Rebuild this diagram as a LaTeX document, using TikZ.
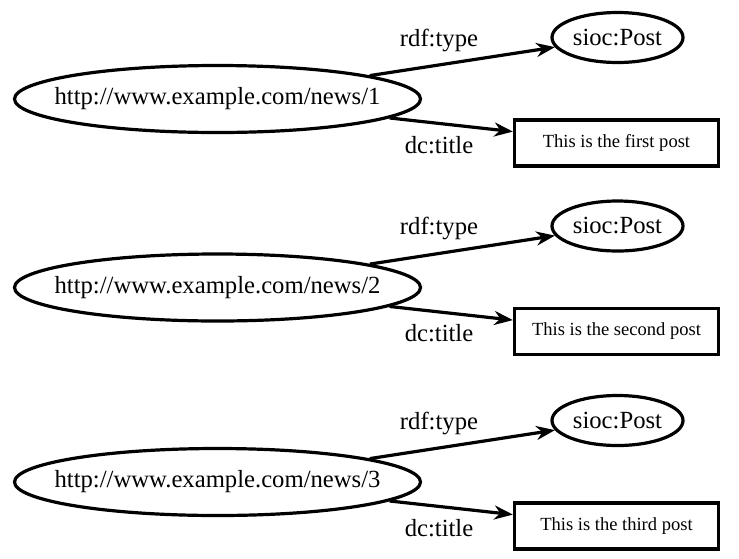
\documentclass[tikz,border=0pt]{standalone}
\usepackage{fontspec}
\setmainfont{Liberation Serif}
\usetikzlibrary{shapes.geometric,arrows.meta}
\tikzset{
  resnode/.style={draw, ellipse, inner sep=0pt, line width=2.4pt, minimum width=304.5pt, minimum height=50.25pt, font=\fontsize{18.5pt}{22pt}\selectfont},
  classnode/.style={draw, ellipse, inner sep=0pt, line width=2.4pt, minimum width=98.25pt, minimum height=37.5pt, font=\fontsize{18.5pt}{22pt}\selectfont},
  litnode/.style={draw, rectangle, inner sep=0pt, line width=2.4pt, minimum width=153pt, minimum height=34.5pt, font=\fontsize{13.9pt}{16pt}\selectfont},
  edgelabel/.style={inner sep=0pt, font=\fontsize{18.5pt}{22pt}\selectfont},
  link/.style={-{Stealth[length=14pt, width=10.5pt, inset=4.5pt]}, line width=2.4pt}
}
\begin{document}
\begin{tikzpicture}[x=0.75pt, y=-0.75pt]
\useasboundingbox (0,0) rectangle (739,558);
\foreach \i/\off/\word in {1/0/first, 2/188.5/second, 3/383/third} {
  \node[resnode] (res\i) at (217.5, 99+\off) {\makebox[0pt]{http://www.example.com/news/\i}};
  \node[classnode] (cls\i) at (617.5, 37.5+\off) {\makebox[0pt]{sioc:Post}};
  \node[litnode] (lit\i) at (616.5, 143+\off) {This is the \word\ post};
  \node[edgelabel] (lt\i) at (439, 40+\off) {rdf:type};
  \node[edgelabel] (ld\i) at (439, 145+\off) {dc:title};
  \draw[link] (res\i) -- (cls\i);
  \draw[link] (res\i) -- (lit\i);
}
\end{tikzpicture}
\end{document}
